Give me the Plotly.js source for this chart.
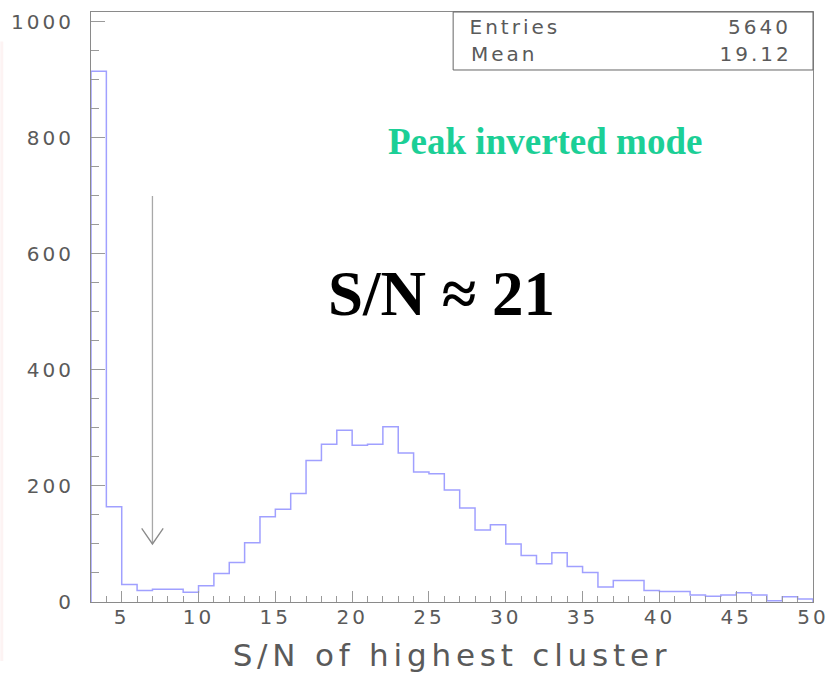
<!DOCTYPE html>
<html>
<head>
<meta charset="utf-8">
<script src="https://cdn.plot.ly/plotly-3.0.1.min.js"></script>
<style>
  html, body { margin: 0; padding: 0; background: #fff; }
  #chart { width: 830px; height: 674px; }
  .xtick text, .ytick text { letter-spacing: 3px; }
  .g-xtitle text { letter-spacing: 4.8px; }
  g.annotation[data-index="0"] text, g.annotation[data-index="1"] text,
  g.annotation[data-index="2"] text, g.annotation[data-index="3"] text { letter-spacing: 3px; }
</style>
</head>
<body>
<div id="chart"></div>
<script>
// ---- data ----
const binLow = [3,4,5,6,7,8,9,10,11,12,13,14,15,16,17,18,19,20,21,22,23,24,25,26,27,28,29,30,31,32,33,34,35,36,37,38,39,40,41,42,43,44,45,46,47,48,49];
const binWidth = 1;
const counts = [915,164,30,20,22,22,17,28,49,68,102,147,160,187,244,272,296,270,272,302,257,224,221,193,162,124,133,100,80,66,85,61,51,26,37,37,20,18,18,12,10,12,16,12,2,9,5];
const statLabels = ["Entries", "Mean"];
const statValues = ["5640", "19.12"];
const xTitle = "S/N of highest cluster";
const modeLabel = "Peak inverted mode";
const snLabel = "S/N \u2248 21";
const arrowX = 7, arrowTop = 700, arrowTip = 100;

// ---- step outline built from the bins ----
const sx = [binLow[0]], sy = [0];
binLow.forEach((lo, i) => { sx.push(lo, lo + binWidth); sy.push(counts[i], counts[i]); });
sx.push(binLow[binLow.length - 1] + binWidth); sy.push(0);

const axisGrey = '#8a8a8a';
const textGrey = '#5a5a5a';
const tickFont = {family: 'DejaVu Sans, sans-serif', size: 20, color: textGrey};
const trace = {x: sx, y: sy, type: 'scatter', mode: 'lines', line: {color: '#a0a0ff', width: 1.5}, hoverinfo: 'skip', showlegend: false};

const statAnn = [];
const labCx = [0.5867, 0.5724], valCx = [0.9259, 0.9197], rowY = [0.9745, 0.928];
statLabels.forEach((lab, i) => {
  statAnn.push({xref: 'paper', yref: 'paper', x: labCx[i], y: rowY[i], xanchor: 'center', yanchor: 'middle',
    text: lab, showarrow: false, font: {family: 'DejaVu Sans, sans-serif', size: 20, color: textGrey}});
  statAnn.push({xref: 'paper', yref: 'paper', x: valCx[i], y: rowY[i], xanchor: 'center', yanchor: 'middle',
    text: statValues[i], showarrow: false, font: {family: 'DejaVu Sans, sans-serif', size: 20, color: textGrey}});
});

const layout = {
  width: 830, height: 674, margin: {l: 91, r: 17, t: 12, b: 72},
  paper_bgcolor: '#ffffff', plot_bgcolor: '#ffffff',
  xaxis: {range: [3, 50], showgrid: false, zeroline: false, showline: true, linecolor: axisGrey, linewidth: 1, mirror: true,
    ticks: 'inside', ticklen: 11, tickcolor: '#9a9a9a', tickwidth: 1, tick0: 5, dtick: 5, tickfont: tickFont, ticklabelstandoff: -3,
    minor: {dtick: 1, ticks: 'inside', ticklen: 6, tickcolor: '#9a9a9a', showgrid: false},
    title: {text: xTitle, font: {family: 'DejaVu Sans, sans-serif', size: 31, color: textGrey}, standoff: 16}, automargin: false},
  yaxis: {range: [0, 1017], showgrid: false, zeroline: false, showline: true, linecolor: axisGrey, linewidth: 1, mirror: true,
    ticks: 'inside', ticklen: 14, tickcolor: '#9a9a9a', tickwidth: 1, tick0: 0, dtick: 200, tickfont: tickFont, ticklabelstandoff: 12,
    minor: {dtick: 50, ticks: 'inside', ticklen: 8, tickcolor: '#9a9a9a', showgrid: false}, automargin: false},
  shapes: [
    {type: 'rect', xref: 'paper', yref: 'paper', x0: 0.5016, x1: 1, y0: 0.9017, y1: 1, line: {color: '#666666', width: 1}, fillcolor: 'rgba(255,255,255,1)', layer: 'above'},
    {type: 'line', xref: 'x', yref: 'y', x0: arrowX, x1: arrowX, y0: arrowTop, y1: arrowTip, line: {color: '#a8a8a8', width: 1.3}},
    {type: 'path', xref: 'x', yref: 'y', path: 'M ' + (arrowX - 0.7) + ',' + (arrowTip + 27) + ' L ' + arrowX + ',' + arrowTip + ' L ' + (arrowX + 0.7) + ',' + (arrowTip + 27), line: {color: '#8a8a8a', width: 1.3}},
    {type: 'rect', xref: 'paper', yref: 'paper', x0: -0.1256, x1: -0.1215, y0: -0.1, y1: 0.95, line: {width: 0}, fillcolor: 'rgba(245,200,200,0.22)'}
  ],
  annotations: statAnn.concat([
    {xref: 'paper', yref: 'paper', x: 0.629, y: 0.780, xanchor: 'center', yanchor: 'middle', text: '<b>' + modeLabel + '</b>', showarrow: false, font: {family: 'Liberation Serif, serif', size: 37, color: '#1ccf96'}},
    {xref: 'paper', yref: 'paper', x: 0.485, y: 0.5226, xanchor: 'center', yanchor: 'middle', text: '<b>' + snLabel + '</b>', showarrow: false, font: {family: 'Liberation Serif, serif', size: 63, color: '#000000'}}
  ])
};

Plotly.newPlot('chart', [trace], layout, {displayModeBar: false, staticPlot: true});
</script>
</body>
</html>
